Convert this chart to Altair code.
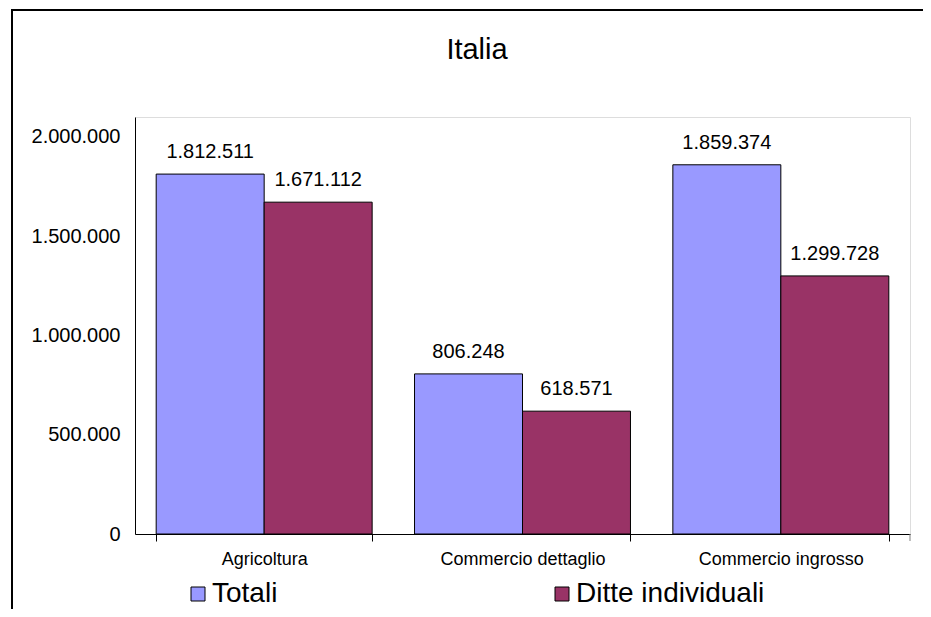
import altair as alt
import pandas as pd

categories = ["Agricoltura", "Commercio dettaglio", "Commercio ingrosso"]
series = ["Totali", "Ditte individuali"]
totali = [1812511, 806248, 1859374]
ditte = [1671112, 618571, 1299728]
y_ticks = [0, 500000, 1000000, 1500000, 2000000]
colors = ["#9999FF", "#993366"]
title_text = "Italia"

rows = []
for i, c in enumerate(categories):
    for s, vals in zip(series, [totali, ditte]):
        v = vals[i]
        rows.append({"cat": c, "serie": s, "val": v,
                     "lab": f"{v:,}".replace(",", ".")})
df = pd.DataFrame(rows)

FONT = "Liberation Sans"
W, H = 775, 417

x = alt.X("cat:N", sort=categories, title=None,
          scale=alt.Scale(paddingInner=0.164, paddingOuter=0.082),
          axis=alt.Axis(labelAngle=0, labelFontSize=18, labelFont=FONT,
                        labelColor="black", domainColor="black",
                        tickColor="black", tickSize=7, tickBand="extent",
                        labelPadding=9, grid=False))
y = alt.Y("val:Q", title=None,
          scale=alt.Scale(domain=[0, 2100000], nice=False),
          axis=alt.Axis(values=y_ticks, ticks=False, labelPadding=15,
                        labelFontSize=20, labelFont=FONT, labelColor="black",
                        domainColor="black", grid=False,
                        labelExpr="replace(format(datum.value, ',d'), regexp(',', 'g'), '.')"))
xo = alt.XOffset("serie:N", sort=series)
color = alt.Color("serie:N", sort=series,
                  scale=alt.Scale(domain=series, range=colors),
                  legend=alt.Legend(orient="none", legendX=49, legendY=463,
                                    direction="horizontal", title=None,
                                    symbolType="square", symbolSize=196,
                                    symbolStrokeColor="black",
                                    symbolStrokeWidth=1, symbolOpacity=1,
                                    labelFontSize=28, labelFont=FONT,
                                    labelColor="black", labelOffset=0,
                                    columnPadding=270, labelLimit=400))

base = alt.Chart(df)
bars = base.mark_bar(stroke="black", strokeWidth=1, opacity=1).encode(
    x=x, xOffset=xo, y=y, color=color)
texts = base.mark_text(fontSize=20, font=FONT, color="black",
                       baseline="middle", dy=-22).encode(
    x=alt.X("cat:N", sort=categories), xOffset=xo, y="val:Q", text="lab:N")

title = alt.Chart(pd.DataFrame({"t": [title_text]})).mark_text(
    fontSize=29, font=FONT, color="black", baseline="middle", align="center"
).encode(text="t:N", x=alt.value(342), y=alt.value(-67))

border = alt.Chart(pd.DataFrame({"t": [title_text]})).mark_rect(
    fill=None, stroke="black", strokeWidth=2, clip=False
).encode(x=alt.value(-123), x2=alt.value(820),
         y=alt.value(-107), y2=alt.value(560))

right_tick = alt.Chart(pd.DataFrame({"t": [title_text]})).mark_rule(
    color="#808080", strokeWidth=1
).encode(x=alt.value(W), y=alt.value(H), y2=alt.value(H + 7))

chart = alt.layer(border, bars, texts, title, right_tick).properties(
    width=W, height=H,
    autosize=alt.AutoSizeParams(type="none"),
    padding={"left": 127, "top": 109, "right": 13, "bottom": 75},
).configure_view(stroke="#808080", strokeWidth=1).configure(background="white")

chart.save("out.html", embed_options={"renderer": "svg", "actions": False})
